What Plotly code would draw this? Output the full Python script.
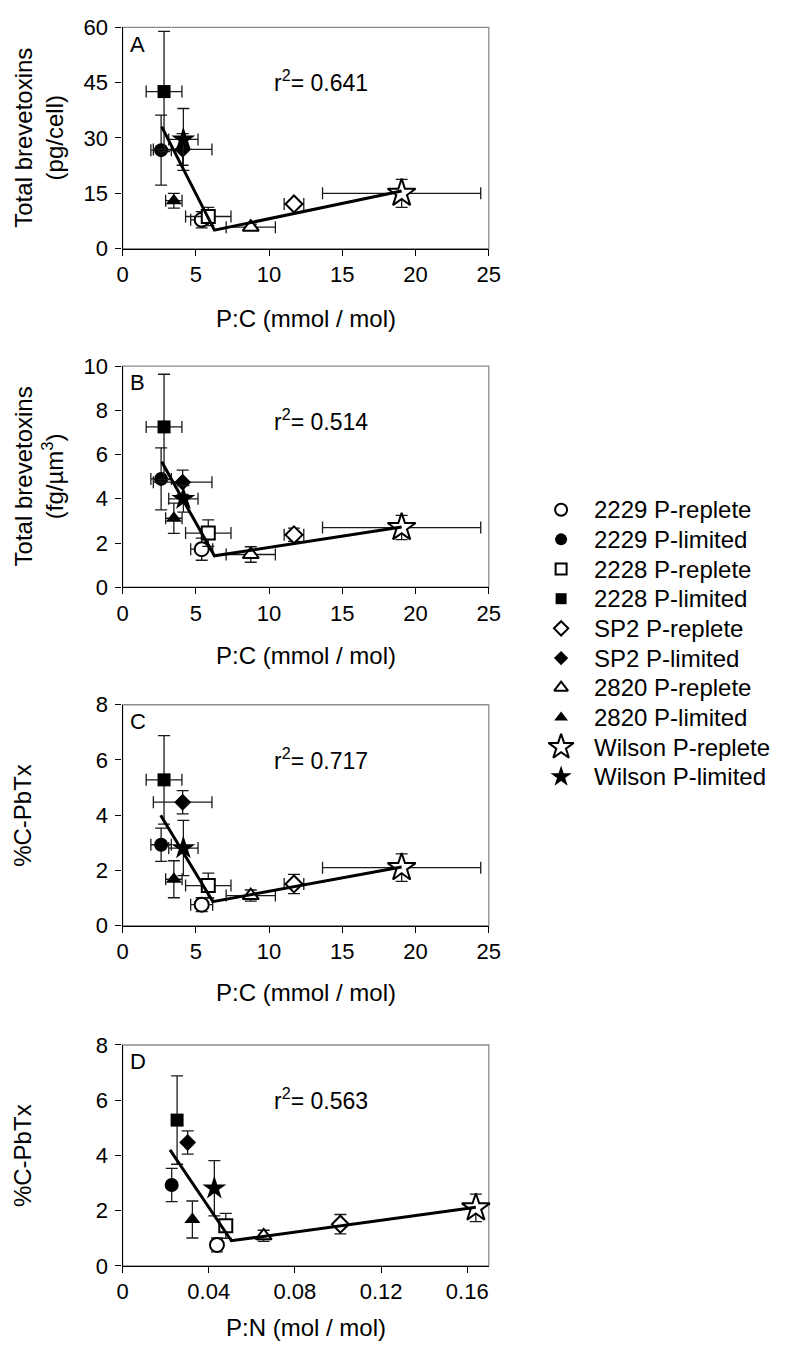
import plotly.graph_objects as go

# ---------------- data ----------------
series_names = ["2229 P-replete", "2229 P-limited", "2228 P-replete", "2228 P-limited",
                "SP2 P-replete", "SP2 P-limited", "2820 P-replete", "2820 P-limited",
                "Wilson P-replete", "Wilson P-limited"]

# P:C (mmol/mol) and its error, shared by panels A-C
pc = [5.40, 2.63, 5.85, 2.83, 11.70, 4.10, 8.75, 3.50, 19.05, 4.15]
pc_err = [0.75, 0.70, 1.55, 1.22, 0.67, 2.00, 1.68, 0.56, 5.40, 1.00]

# P:N (mol/mol), panel D
pn = [0.0438, 0.0228, 0.0479, 0.0253, 0.1011, 0.0302, 0.0655, 0.0324, 0.164, 0.0426]

# Panel A: total brevetoxins (pg/cell)
tox_cell = [7.8, 26.7, 8.7, 42.6, 12.1, 26.9, 5.8, 13.0, 15.0, 29.6]
tox_cell_err = [2.2, 9.5, 2.5, 16.3, 1.0, 4.3, 0.8, 2.0, 3.8, 8.4]

# Panel B: total brevetoxins (fg/um3)
tox_vol = [1.72, 4.90, 2.45, 7.25, 2.37, 4.75, 1.48, 3.12, 2.70, 4.00]
tox_vol_err = [0.50, 1.40, 0.60, 2.38, 0.30, 0.55, 0.35, 0.68, 0.55, 0.60]

# Panels C & D: %C-PbTx
pct_c = [0.76, 2.93, 1.45, 5.28, 1.51, 4.47, 1.09, 1.68, 2.10, 2.81]
pct_c_err = [0.25, 0.60, 0.45, 1.60, 0.35, 0.42, 0.20, 0.67, 0.50, 1.00]

# piecewise regression lines
fitA_x = [2.67, 6.27, 19.05]; fitA_y = [33.1, 5.0, 15.6]
fitB_x = [2.67, 6.27, 19.05]; fitB_y = [5.67, 1.42, 2.72]
fitC_x = [2.60, 6.16, 19.05]; fitC_y = [4.00, 0.87, 2.12]
fitD_x = [0.022, 0.0505, 0.164]; fitD_y = [4.20, 0.91, 2.12]

r2_labels = ["0.641", "0.514", "0.717", "0.563"]
panel_letters = ["A", "B", "C", "D"]

pc_ticks = [0, 5, 10, 15, 20, 25]
pn_ticks = [0, 0.04, 0.08, 0.12, 0.16]
pn_ticktext = ["0", "0.04", "0.08", "0.12", "0.16"]

# ---------------- styles ----------------
symbols = ["circle", "circle", "square", "square", "diamond", "diamond",
           "triangle-up", "triangle-up", "star", "star"]
filled = [False, True] * 5
sizes = [14, 14, 13, 13, 13, 13, 14, 14, 21, 18]
leg_sizes = [12, 12, 11, 11, 11, 11, 12, 12, 19, 16]

W, H = 793, 1363
FONT = "Arial, Liberation Sans, sans-serif"
x0px, x1px = 119.3, 494.0
panels_px = [(15.7, 241.0), (360.7, 586.0), (705.7, 930.7), (1052.3, 1277.3)]
leg_top, leg_bot = 507.0, 779.0
leg_marker_x, leg_text_x = 568.0, 600.0


def py(v):
    return 1 - v / H


def marker_style(i, size):
    return dict(symbol=symbols[i], size=size,
                color="black" if filled[i] else "white",
                line=dict(color="black", width=0 if filled[i] else 2))


fig = go.Figure()

panel_data = [
    (pc, pc_err, tox_cell, tox_cell_err, fitA_x, fitA_y),
    (pc, pc_err, tox_vol, tox_vol_err, fitB_x, fitB_y),
    (pc, pc_err, pct_c, pct_c_err, fitC_x, fitC_y),
    (pn, None, pct_c, pct_c_err, fitD_x, fitD_y),
]

for p, (xs, xe, ys, ye, fx, fy) in enumerate(panel_data):
    xa = "x" if p == 0 else f"x{p+1}"
    ya = "y" if p == 0 else f"y{p+1}"
    for i in range(len(series_names)):
        kw = {}
        if xe is not None:
            kw["error_x"] = dict(type="data", array=[xe[i]], visible=True,
                                 color="#1a1a1a", thickness=1.3, width=6)
        fig.add_trace(go.Scatter(
            x=[xs[i]], y=[ys[i]], mode="markers", xaxis=xa, yaxis=ya,
            showlegend=False, cliponaxis=False, name=series_names[i],
            marker=marker_style(i, sizes[i]),
            error_y=dict(type="data", array=[ye[i]], visible=True,
                         color="#1a1a1a", thickness=1.3, width=6),
            **kw))
    fig.add_trace(go.Scatter(x=fx, y=fy, mode="lines", xaxis=xa, yaxis=ya,
                             showlegend=False,
                             line=dict(color="black", width=3)))

# hand-drawn legend on its own hidden axis
for i, name in enumerate(series_names):
    fig.add_trace(go.Scatter(x=[0], y=[i], mode="markers", xaxis="x5", yaxis="y5",
                             showlegend=False, cliponaxis=False, name=name,
                             marker=marker_style(i, leg_sizes[i])))

axis_common = dict(showline=True, linecolor="black", linewidth=1.3,
                   ticks="outside", ticklen=6, tickwidth=1.3, tickcolor="black",
                   showgrid=False, zeroline=False,
                   tickfont=dict(family=FONT, size=22, color="black"))

yranges = [[0, 60], [0, 10], [0, 8], [0, 8]]
ydticks = [15, 2, 2, 2]
layout = dict(width=W, height=H, margin=dict(l=0, r=0, t=0, b=0),
              paper_bgcolor="white", plot_bgcolor="white",
              font=dict(family=FONT, color="black"),
              showlegend=False)

layout["xaxis5"] = dict(domain=[(leg_marker_x - 10) / W, (leg_marker_x + 10) / W],
                        range=[-1, 1], visible=False, anchor="y5", fixedrange=True)
layout["yaxis5"] = dict(domain=[py(leg_bot), py(leg_top)], range=[9, 0],
                        visible=False, anchor="x5", fixedrange=True)

shapes = []
annotations = []
for p in range(4):
    top, bot = panels_px[p]
    xk = "xaxis" if p == 0 else f"xaxis{p+1}"
    yk = "yaxis" if p == 0 else f"yaxis{p+1}"
    xa = "x" if p == 0 else f"x{p+1}"
    ya = "y" if p == 0 else f"y{p+1}"
    xd = dict(axis_common, domain=[x0px / W, x1px / W], anchor=ya)
    if p < 3:
        xd.update(range=[0, 25], tickvals=pc_ticks)
    else:
        xd.update(range=[0, 0.17], tickvals=pn_ticks, ticktext=pn_ticktext)
    layout[xk] = xd
    layout[yk] = dict(axis_common, domain=[py(bot), py(top)], anchor=xa,
                      range=yranges[p], dtick=ydticks[p], tick0=0,
                      ticklabelstandoff=3)
    shapes.append(dict(type="rect", xref=f"{xa} domain", yref=f"{ya} domain",
                       x0=0, x1=1, y0=0, y1=1, layer="below",
                       line=dict(color="#8c8c8c", width=1.3)))
    annotations.append(dict(text=panel_letters[p], xref="paper", yref="paper",
                            x=135 / W, y=py(top + 17), showarrow=False,
                            xanchor="center", yanchor="middle",
                            font=dict(size=22, family=FONT, color="black")))
    annotations.append(dict(text=f"r<sup>2</sup>= {r2_labels[p]}", xref="paper", yref="paper",
                            x=322 / W, y=py(top + 55), showarrow=False,
                            xanchor="center", yanchor="middle",
                            font=dict(size=23, family=FONT, color="black")))

ytitles = ["Total brevetoxins<br>(pg/cell)", "Total brevetoxins<br>(fg/µm<sup>3</sup>)",
           "%C-PbTx", "%C-PbTx"]
ytitle_x = [33.5, 33.5, 17, 17]
xtitles = ["P:C (mmol / mol)", "P:C (mmol / mol)", "P:C (mmol / mol)", "P:N (mol / mol)"]
xtitle_off = [71, 70, 68, 63]
for p in range(4):
    top, bot = panels_px[p]
    annotations.append(dict(text=ytitles[p], xref="paper", yref="paper",
                            x=ytitle_x[p] / W, y=py((top + bot) / 2), textangle=-90,
                            showarrow=False, align="center",
                            xanchor="center", yanchor="middle",
                            font=dict(size=24, family=FONT, color="black")))
    annotations.append(dict(text=xtitles[p], xref="paper", yref="paper",
                            x=(x0px + x1px) / 2 / W, y=py(bot + xtitle_off[p]),
                            showarrow=False, xanchor="center", yanchor="middle",
                            font=dict(size=24, family=FONT, color="black")))

# legend labels
n = len(series_names)
for i, name in enumerate(series_names):
    ypx = leg_top + i * (leg_bot - leg_top) / (n - 1)
    annotations.append(dict(text=name, xref="paper", yref="paper",
                            x=leg_text_x / W, y=py(ypx), showarrow=False,
                            xanchor="left", yanchor="middle",
                            font=dict(size=24, family=FONT, color="black")))

layout["shapes"] = shapes
layout["annotations"] = annotations
fig.update_layout(**layout)

fig.write_html("out.html", config={"displayModeBar": False},
               post_script="document.body.style.margin='0';")
